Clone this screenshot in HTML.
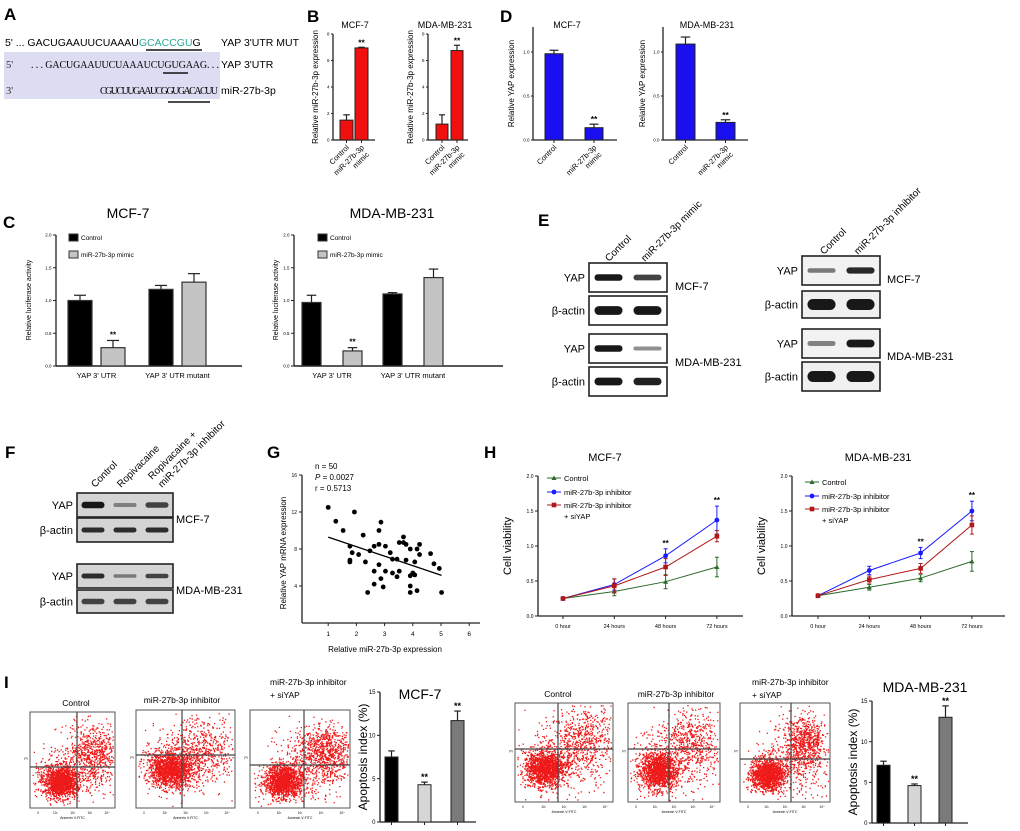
<!DOCTYPE html>
<html><head><meta charset="utf-8">
<style>
html,body{margin:0;padding:0;background:#fff;}
svg{display:block;font-family:"Liberation Sans",Arial,sans-serif;}
.ser{font-family:"Liberation Serif",serif;}
</style></head>
<body>
<svg id="fig" width="1020" height="831" viewBox="0 0 1020 831" xmlns="http://www.w3.org/2000/svg">
<g>
<text x="4" y="20" font-size="17" font-weight="bold">A</text>
<rect x="4" y="52" width="216" height="47" fill="#dcdcf2"/>
<text x="5" y="46" font-size="10.5">5' ... GACUGAAUUCUAAAU<tspan fill="#2aa89a">GCACCGU</tspan>G</text>
<line x1="146" y1="50" x2="202" y2="50" stroke="#111" stroke-width="1.5"/>
<text x="221" y="46" font-size="10.5">YAP 3'UTR MUT</text>
<text class="ser" x="6" y="68" font-size="10.5" fill="#333">5'</text>
<text class="ser" x="31" y="68" font-size="10" textLength="188">. . . GACUGAAUUCUAAAUCUGUGAAG. . .</text>
<line x1="163" y1="73" x2="188" y2="73" stroke="#111" stroke-width="1.5"/>
<text x="221" y="68" font-size="10.5">YAP 3'UTR</text>
<text class="ser" x="6" y="94" font-size="10.5" fill="#333">3'</text>
<text class="ser" x="100" y="94" font-size="10" textLength="118">CGUCUUGAAUCGGUGACACUU</text>
<line x1="168" y1="102" x2="210" y2="102" stroke="#111" stroke-width="1.5"/>
<text x="221" y="94" font-size="10.5">miR-27b-3p</text>
</g>
<text x="307" y="22" font-size="17" font-weight="bold">B</text>
<text x="500" y="22" font-size="17" font-weight="bold">D</text>
<text x="3" y="228" font-size="17" font-weight="bold">C</text>
<text x="538" y="226" font-size="17" font-weight="bold">E</text>
<text x="5" y="458" font-size="17" font-weight="bold">F</text>
<text x="267" y="458" font-size="17" font-weight="bold">G</text>
<text x="484" y="458" font-size="17" font-weight="bold">H</text>
<text x="4" y="688" font-size="17" font-weight="bold">I</text>
<g id="layer"></g>
</svg>
<script>
const bCats = ["Control", "miR-27b-3p mimic"];
const bMcfVals = [1.5, 6.95];
const bMcfErr = [0.4, 0.05];
const bMdaVals = [1.2, 6.75];
const bMdaErr = [0.7, 0.4];
const bTicks = [0, 2, 4, 6, 8];

const dMcfVals = [0.98, 0.14];
const dMcfErr = [0.04, 0.04];
const dMdaVals = [1.09, 0.2];
const dMdaErr = [0.08, 0.03];
const dTicks = ["0.0", "0.5", "1.0"];

const cGroups = ["YAP 3' UTR", "YAP 3' UTR mutant"];
const cSeries = ["Control", "miR-27b-3p mimic"];
const cMcfCtrl = [1.0, 1.17];
const cMcfCtrlErr = [0.08, 0.06];
const cMcfMimic = [0.28, 1.28];
const cMcfMimicErr = [0.11, 0.13];
const cMdaCtrl = [0.97, 1.1];
const cMdaCtrlErr = [0.11, 0.02];
const cMdaMimic = [0.23, 1.35];
const cMdaMimicErr = [0.05, 0.13];
const cTicks = ["0.0", "0.5", "1.0", "1.5", "2.0"];

const gX = [1.0,1.27,1.53,1.77,1.85,1.77,1.77,1.93,2.08,2.24,2.32,2.4,2.48,2.63,2.63,2.63,2.8,2.8,2.87,2.8,2.87,2.95,3.03,3.03,3.2,3.28,3.28,3.44,3.44,3.52,3.52,3.67,3.67,3.76,3.76,3.91,3.91,3.91,3.91,4.0,4.07,4.07,4.15,4.15,4.24,4.24,4.63,4.75,4.94,5.02];
const gY = [12.5,11.0,10.0,8.3,7.6,6.8,6.6,12.0,7.4,9.5,6.6,3.3,7.8,8.3,5.6,4.2,8.5,10.0,10.9,6.3,4.8,3.9,8.3,5.6,7.6,6.9,5.4,6.9,5.0,5.6,8.7,9.3,8.7,8.5,6.8,8.0,5.1,4.0,3.3,5.4,5.2,6.6,8.0,3.5,8.5,7.4,7.5,6.4,5.9,3.3];
const gXTicks = [1,2,3,4,5,6];
const gYTicks = [4,8,12,16];

const hTimes = ["0 hour", "24 hours", "48 hours", "72 hours"];
const hSeriesNames = ["Control", "miR-27b-3p inhibitor", "miR-27b-3p inhibitor + siYAP"];
const hMcfCtrl = [0.25, 0.35, 0.49, 0.70];
const hMcfCtrlErr = [0.02, 0.06, 0.10, 0.14];
const hMcfInh = [0.25, 0.45, 0.86, 1.37];
const hMcfInhErr = [0.01, 0.08, 0.10, 0.20];
const hMcfSi = [0.25, 0.43, 0.70, 1.14];
const hMcfSiErr = [0.01, 0.10, 0.12, 0.08];
const hMdaCtrl = [0.29, 0.41, 0.54, 0.78];
const hMdaCtrlErr = [0.02, 0.04, 0.05, 0.14];
const hMdaInh = [0.29, 0.65, 0.90, 1.50];
const hMdaInhErr = [0.01, 0.06, 0.08, 0.14];
const hMdaSi = [0.29, 0.52, 0.68, 1.30];
const hMdaSiErr = [0.01, 0.05, 0.07, 0.13];
const hTicks = ["0.0", "0.5", "1.0", "1.5", "2.0"];

const iCats = ["Control", "miR-27b-3p inhibitor", "inhibitor + siYAP"];
const iMcfVals = [7.5, 4.3, 11.7];
const iMcfErr = [0.7, 0.3, 1.1];
const iMdaVals = [7.1, 4.6, 13.0];
const iMdaErr = [0.5, 0.2, 1.4];
const iTicks = [0, 5, 10, 15];

const NS = "http://www.w3.org/2000/svg";
const layer = document.getElementById("layer");
function mk(tag, attrs, parent) {
  const el = document.createElementNS(NS, tag);
  for (const k in attrs) el.setAttribute(k, attrs[k]);
  (parent || layer).appendChild(el);
  return el;
}
function txt(x, y, s, size, extra) {
  const a = Object.assign({x: x, y: y, "font-size": size}, extra || {});
  const t = mk("text", a);
  t.textContent = s;
  return t;
}
function lin(x1, y1, x2, y2, w, c) {
  return mk("line", {x1: x1, y1: y1, x2: x2, y2: y2, stroke: c || "#222", "stroke-width": w || 1});
}
function yTitle(x, cy, s, size) {
  const t = txt(x, cy, s, size, {"text-anchor": "middle", transform: "rotate(-90 " + x + " " + cy + ")"});
  
  
  return t;
}
function rotLabel(x, y, s, size) {
  const t = txt(x, y, s, size, {"text-anchor": "end", transform: "rotate(-45 " + x + " " + y + ")"});
  
  
  return t;
}
function vAxis(ax, y0, y1, tickVals, scale, size, len) {
  const a = lin(ax, y0, ax, y1, 1.3);
  
  
  tickVals.forEach(v => {
    const y = scale(parseFloat(v));
    lin(ax - (len || 3), y, ax, y, 1);
    const t = txt(ax - (len || 3) - 1.5, y + size * 0.35, String(v), size, {"text-anchor": "end"});
    
    
  });
}
function bar(x, w, v, e, ys, fill, stroke, sw) {
  const yt = ys(v), yb = ys(0);
  const r = mk("rect", {x: x, y: yt, width: w, height: yb - yt, fill: fill, stroke: stroke, "stroke-width": sw || 1});
  
  
  const ye = ys(v + e);
  lin(x + w / 2, yt, x + w / 2, ye, 1.2);
  lin(x + w / 2 - w * 0.25, ye, x + w / 2 + w * 0.25, ye, 1.2);
  return r;
}
function stars(x, y, size) {
  const t = txt(x, y, "**", size || 9, {"text-anchor": "middle", "font-weight": "bold"});
  
  
}

function smallBar(o) {
  const ys = v => o.y0 - (v / o.max) * (o.y0 - o.yTop);
  const t = txt(o.titleX, 28, o.title, 9, {"text-anchor": "middle"});
  
  
  vAxis(o.ax, o.axTop, o.y0, o.ticks, ys, 4.5, 2);
  const xa = lin(o.ax, o.y0, o.xEnd, o.y0, 1.3);
  
  
  o.vals.forEach((v, i) => {
    const x = o.bx0 + i * o.step;
    bar(x, o.w, v, o.errs[i], ys, o.fill, "#222", 1);
    lin(x + o.w / 2, o.y0, x + o.w / 2, o.y0 + 3, 1);
    if (i === 1) stars(x + o.w / 2, ys(v + o.errs[i]) - 2, 8.5);
  });
  const cx0 = o.bx0 + o.w / 2, cx1 = o.bx0 + o.step + o.w / 2;
  rotLabel(cx0 + 3, o.y0 + 8, bCats[0], 7.5);
  rotLabel(cx1 + 3, o.y0 + 8, "miR-27b-3p", 7.5);
  rotLabel(cx1 + 8, o.y0 + 15, "mimic", 7.5);
  yTitle(o.ytX, (o.axTop + o.y0) / 2, o.ytitle, 8);
}
smallBar({title: "MCF-7", titleX: 355, ax: 333, axTop: 34, yTop: 34, y0: 140, max: 8, ticks: bTicks, xEnd: 375, bx0: 340, step: 15, w: 13, vals: bMcfVals, errs: bMcfErr, fill: "#f01010", ytX: 318, ytitle: "Relative miR-27b-3p  expression"});
smallBar({title: "MDA-MB-231", titleX: 445, ax: 428, axTop: 34, yTop: 34, y0: 140, max: 8, ticks: bTicks, xEnd: 468, bx0: 436, step: 15, w: 12, vals: bMdaVals, errs: bMdaErr, fill: "#f01010", ytX: 413, ytitle: "Relative miR-27b-3p  expression"});
smallBar({title: "MCF-7", titleX: 567, ax: 533, axTop: 27, yTop: 52, y0: 140, max: 1, ticks: dTicks, xEnd: 617, bx0: 545, step: 40, w: 18, vals: dMcfVals, errs: dMcfErr, fill: "#1a0ff0", ytX: 514, ytitle: "Relative YAP expression"});
smallBar({title: "MDA-MB-231", titleX: 707, ax: 663, axTop: 27, yTop: 52, y0: 140, max: 1, ticks: dTicks, xEnd: 748, bx0: 676, step: 40, w: 19, vals: dMdaVals, errs: dMdaErr, fill: "#1a0ff0", ytX: 645, ytitle: "Relative YAP expression"});

function groupBar(o) {
  const ys = v => o.y0 - (v / 2) * (o.y0 - o.yTop);
  const t = txt(o.titleX, 218, o.title, 14, {"text-anchor": "middle"});
  
  
  vAxis(o.ax, o.yTop, o.y0, cTicks, ys, 4.5, 3);
  const xa = lin(o.ax, o.y0, o.xEnd, o.y0, 1.5);
  
  
  const fills = ["#000", "#c4c4c4"];
  const series = [[o.ctrl, o.ctrlE], [o.mim, o.mimE]];
  cGroups.forEach((g, gi) => {
    series.forEach((s, si) => {
      const x = o.bx0 + gi * o.gstep + si * o.sstep;
      bar(x, o.w, s[0][gi], s[1][gi], ys, fills[si], "#333", 1.2);
      if (gi === 0 && si === 1) stars(x + o.w / 2, ys(s[0][gi] + s[1][gi]) - 3, 8);
    });
    const gl = txt(o.bx0 + gi * o.gstep + (o.sstep + o.w) / 2, o.y0 + 12, g, 7.5, {"text-anchor": "middle"});
    
    
  });
  cSeries.forEach((s, i) => {
    const r = mk("rect", {x: o.lx, y: 234 + i * 17, width: 9, height: 7, fill: fills[i], stroke: "#333", "stroke-width": 1});
    
    
    const l = txt(o.lx + 12, 240 + i * 17, s, 6.5);
    
    
  });
  yTitle(o.ytX, 300, "Relative luciferase  activity", 7);
}
groupBar({title: "MCF-7", titleX: 128, ax: 56, yTop: 235, y0: 366, xEnd: 242, bx0: 68, gstep: 81, sstep: 33, w: 24, ctrl: cMcfCtrl, ctrlE: cMcfCtrlErr, mim: cMcfMimic, mimE: cMcfMimicErr, lx: 69, ytX: 31});
groupBar({title: "MDA-MB-231", titleX: 392, ax: 294, yTop: 235, y0: 366, xEnd: 503, bx0: 302, gstep: 81, sstep: 41, w: 19, ctrl: cMdaCtrl, ctrlE: cMdaCtrlErr, mim: cMdaMimic, mimE: cMdaMimicErr, lx: 318, ytX: 278});

function blotBox(x, y, w, h, strengths, labelL, bg, thick) {
  const g = mk("g", {});
  
  
  mk("rect", {x: x, y: y, width: w, height: h, fill: bg, stroke: "#222", "stroke-width": 1.6}, g);
  const n = strengths.length, lw = w / n;
  strengths.forEach((s, i) => {
    const bw = lw * 0.72, bh = (thick || 6) * (0.5 + s * 0.6);
    const e = mk("rect", {x: x + i * lw + (lw - bw) / 2, y: y + h / 2 - bh / 2, width: bw, height: bh, rx: bh / 2, fill: "#111", opacity: 0.25 + s * 0.72}, g);
    
    
  });
  const l = txt(x - 4, y + h / 2 + 4, labelL, 11, {"text-anchor": "end"});
  
  
}
blotBox(589, 263, 78, 29, [1, 0.75], "YAP", "#fff", 6);
blotBox(589, 296, 78, 29, [1, 1], "β-actin", "#fff", 8);
blotBox(589, 334, 78, 29, [1, 0.3], "YAP", "#fff", 6);
blotBox(589, 367, 78, 29, [1, 0.95], "β-actin", "#fff", 7);
txt(675, 290, "MCF-7", 11);
txt(675, 366, "MDA-MB-231", 11);
txt(609, 262, "Control", 10, {transform: "rotate(-45 609 262)"});
txt(645, 262, "miR-27b-3p  mimic", 10, {transform: "rotate(-45 645 262)"});
blotBox(802, 256, 78, 29, [0.4, 0.9], "YAP", "#f2f2f2", 6);
blotBox(802, 291, 78, 27, [1, 1], "β-actin", "#f0f0f0", 10);
blotBox(802, 329, 78, 29, [0.35, 1], "YAP", "#f2f2f2", 7);
blotBox(802, 362, 78, 29, [1, 1], "β-actin", "#f0f0f0", 10);
txt(887, 283, "MCF-7", 11);
txt(887, 360, "MDA-MB-231", 11);
txt(824, 255, "Control", 10, {transform: "rotate(-45 824 255)"});
txt(858, 255, "miR-27b-3p  inhibitor", 10, {transform: "rotate(-45 858 255)"});
blotBox(77, 493, 96, 24, [1, 0.25, 0.7], "YAP", "#d4d4d4", 6);
blotBox(77, 518, 96, 24, [0.85, 0.85, 0.85], "β-actin", "#d4d4d4", 5);
blotBox(77, 564, 96, 24, [0.85, 0.3, 0.7], "YAP", "#d4d4d4", 5);
blotBox(77, 590, 96, 23, [0.7, 0.7, 0.7], "β-actin", "#d4d4d4", 6);
txt(176, 523, "MCF-7", 11);
txt(176, 594, "MDA-MB-231", 11);
txt(95, 488, "Control", 10, {transform: "rotate(-45 95 488)"});
txt(121, 488, "Ropivacaine", 10, {transform: "rotate(-45 121 488)"});
txt(152, 480, "Ropivacaine +", 10, {transform: "rotate(-45 152 480)"});
txt(162, 488, "miR-27b-3p inhibitor", 10, {transform: "rotate(-45 162 488)"});

(function () {
  const ax = 302, y0 = 623;
  const xs = v => 300 + v * 28.2;
  const ys = v => y0 - v * 9.25;
  const ya = lin(ax, 475, ax, 623, 1.3);
  
  
  gYTicks.forEach(v => { lin(ax - 3, ys(v), ax, ys(v)); txt(ax - 5, ys(v) + 2, String(v), 5, {"text-anchor": "end"}); });
  const xa = lin(ax, 623, 480, 623, 1.3);
  
  
  gXTicks.forEach(v => { lin(xs(v), 623, xs(v), 626); txt(xs(v), 636, String(v), 6.5, {"text-anchor": "middle"}); });
  gX.forEach((x, i) => {
    const c = mk("circle", {cx: xs(x), cy: ys(gY[i]), r: 2.4, fill: "#000"});
    
    
  });
  const n = gX.length;
  const mx = gX.reduce((a, b) => a + b, 0) / n, my = gY.reduce((a, b) => a + b, 0) / n;
  let sxy = 0, sxx = 0;
  gX.forEach((x, i) => { sxy += (x - mx) * (gY[i] - my); sxx += (x - mx) * (x - mx); });
  const b = sxy / sxx, a = my - b * mx;
  const minX = Math.min(...gX), maxX = Math.max(...gX);
  const rl = lin(xs(minX), ys(a + b * minX), xs(maxX), ys(a + b * maxX), 1.3, "#000");
  
  
  txt(315, 469, "n = 50", 8);
  mk("text", {x: 315, y: 480, "font-size": 8}).innerHTML = '<tspan font-style="italic">P</tspan> = 0.0027';
  txt(315, 491, "r = 0.5713", 8);
  yTitle(286, 553, "Relative YAP mRNA expression", 8);
  const xt = txt(385, 652, "Relative miR-27b-3p expression", 8, {"text-anchor": "middle"});
  
  
})();

const hColors = ["#2a6a2a", "#1a1aff", "#b01818"];
function lineChart(o) {
  const ys = v => o.y0 - v * 70;
  const xs = i => o.x0 + i * o.step;
  const t = txt(o.titleX, 461, o.title, 11, {"text-anchor": "middle"});
  
  
  vAxis(o.ax, ys(2), o.y0, hTicks, ys, 5, 3);
  const xa = lin(o.ax, o.y0, o.xEnd, o.y0, 1.2);
  
  
  hTimes.forEach((s, i) => {
    lin(xs(i), o.y0, xs(i), o.y0 + 3);
    const l = txt(xs(i), o.y0 + 12, s, 5.5, {"text-anchor": "middle"});
    
    
  });
  o.series.forEach((s, si) => {
    const col = hColors[si];
    const pts = s[0].map((v, i) => xs(i) + "," + ys(v)).join(" ");
    const pl = mk("polyline", {points: pts, fill: "none", stroke: col, "stroke-width": 1});
    
    
    s[0].forEach((v, i) => {
      const x = xs(i), y = ys(v), e = s[1][i];
      lin(x, ys(v - e), x, ys(v + e), 1, col);
      lin(x - 2, ys(v + e), x + 2, ys(v + e), 1, col);
      lin(x - 2, ys(v - e), x + 2, ys(v - e), 1, col);
      let m;
      if (si === 0) m = mk("polygon", {points: (x - 2.5) + "," + (y + 2) + " " + (x + 2.5) + "," + (y + 2) + " " + x + "," + (y - 2.5), fill: col});
      else if (si === 1) m = mk("circle", {cx: x, cy: y, r: 2.4, fill: col});
      else m = mk("rect", {x: x - 2.3, y: y - 2.3, width: 4.6, height: 4.6, fill: col});
      
      
    });
  });
  [2, 3].forEach(i => {
    const top = Math.max(...o.series.map(s => s[0][i] + s[1][i]));
    stars(xs(i), ys(top) - 3, 8);
  });
  const ly = [o.ly, o.ly + 14, o.ly + 27];
  hSeriesNames.forEach((n, si) => {
    const y = ly[si];
    lin(o.lx, y, o.lx + 14, y, 1, hColors[si]);
    if (si === 0) mk("polygon", {points: (o.lx + 4.5) + "," + (y + 2) + " " + (o.lx + 9.5) + "," + (y + 2) + " " + (o.lx + 7) + "," + (y - 2.5), fill: hColors[0]});
    else if (si === 1) mk("circle", {cx: o.lx + 7, cy: y, r: 2.4, fill: hColors[1]});
    else mk("rect", {x: o.lx + 4.7, y: y - 2.3, width: 4.6, height: 4.6, fill: hColors[2]});
    const label = si === 2 ? "miR-27b-3p inhibitor" : n;
    const l = txt(o.lx + 17, y + 3, label, 7.5);
    
    
    if (si === 2) txt(o.lx + 17, y + 14, "+ siYAP", 7.5);
  });
  yTitle(o.ytX, 546, "Cell viability", 11);
}
lineChart({title: "MCF-7", titleX: 605, ax: 538, y0: 616, x0: 563, step: 51.3, xEnd: 743, lx: 547, ly: 478, ytX: 511,
  series: [[hMcfCtrl, hMcfCtrlErr], [hMcfInh, hMcfInhErr], [hMcfSi, hMcfSiErr]]});
lineChart({title: "MDA-MB-231", titleX: 878, ax: 792, y0: 616, x0: 818, step: 51.3, xEnd: 1005, lx: 805, ly: 482, ytX: 765,
  series: [[hMdaCtrl, hMdaCtrlErr], [hMdaInh, hMdaInhErr], [hMdaSi, hMdaSiErr]]});

const flowClusters = [
  [[0.35, 0.72, 0.1, 0.08, 1500], [0.75, 0.42, 0.14, 0.16, 550], [0.5, 0.6, 0.25, 0.2, 350]],
  [[0.35, 0.6, 0.11, 0.09, 1500], [0.68, 0.38, 0.16, 0.16, 400], [0.5, 0.5, 0.25, 0.2, 350]],
  [[0.32, 0.72, 0.09, 0.08, 1500], [0.75, 0.4, 0.13, 0.13, 650], [0.62, 0.6, 0.22, 0.18, 450]],
  [[0.3, 0.65, 0.1, 0.09, 1500], [0.72, 0.35, 0.16, 0.15, 500], [0.5, 0.55, 0.25, 0.2, 350]],
  [[0.33, 0.68, 0.1, 0.09, 1400], [0.68, 0.38, 0.16, 0.16, 450], [0.5, 0.55, 0.25, 0.2, 350]],
  [[0.3, 0.72, 0.09, 0.08, 1400], [0.72, 0.38, 0.12, 0.13, 650], [0.6, 0.6, 0.2, 0.18, 400]]
];
const flowTitles = ["Control", "miR-27b-3p inhibitor", "miR-27b-3p inhibitor|+ siYAP", "Control", "miR-27b-3p inhibitor", "miR-27b-3p inhibitor|+ siYAP"];
let seed = 12345;
function rnd() { seed = (seed * 1103515245 + 12345) % 2147483648; return seed / 2147483648; }
function gauss() { let u = rnd() || 1e-6, v = rnd(); return Math.sqrt(-2 * Math.log(u)) * Math.cos(2 * Math.PI * v); }
function flowPlot(idx, x, y, w, h, vx, hy, tx, ty) {
  const g = mk("g", {});
  
  
  mk("rect", {x: x, y: y, width: w, height: h, fill: "#fff", stroke: "#555", "stroke-width": 1}, g);
  let path = "";
  flowClusters[idx].forEach(c => {
    for (let k = 0; k < c[4]; k++) {
      const px = x + w * (c[0] + c[2] * gauss()), py = y + h * (c[1] + c[3] * gauss());
      if (px > x + 2 && px < x + w - 2 && py > y + 2 && py < y + h - 2) path += "M" + px.toFixed(1) + " " + py.toFixed(1) + "h1.3v1.3h-1.3z";
    }
  });
  const p = mk("path", {d: path, fill: "#ee1a1a"}, g);
  
  
  lin(vx, y, vx, y + h, 1.2, "#444");
  lin(x, hy, x + w, hy, 1.2, "#444");
  const parts = flowTitles[idx].split("|");
  if (parts.length === 1) {
    const t = txt(tx, ty, parts[0], 8.5, {"text-anchor": "middle"});
    
    
  } else {
    const t = txt(tx, ty - 13, parts[0], 8.5);
    
    
    txt(tx, ty, parts[1], 8.5);
  }
  txt(x + w / 2, y + h + 11, "Annexin V-FITC", 3.5, {"text-anchor": "middle"});
  ["0", "10¹", "10²", "10³", "10⁴"].forEach((s, i) => txt(x + 8 + i * (w - 16) / 4, y + h + 6, s, 3.2, {"text-anchor": "middle"}));
  txt(x - 4, y + h / 2, "PI", 3.5, {"text-anchor": "middle"});
}
flowPlot(0, 30, 712, 85, 96, 77, 767, 76, 706);
flowPlot(1, 136, 710, 99, 98, 182, 755, 182, 703);
flowPlot(2, 250, 710, 100, 98, 304, 765, 270, 698);
flowPlot(3, 515, 703, 98, 99, 558, 749, 558, 697);
flowPlot(4, 628, 703, 92, 99, 669, 749, 676, 697);
flowPlot(5, 740, 703, 90, 99, 791, 759, 752, 698);

function apopBar(o) {
  const ys = v => o.y0 - (v / 15) * (o.y0 - o.yTop);
  const t = txt(o.titleX, o.titleY, o.title, 14, {"text-anchor": "middle"});
  
  
  vAxis(o.ax, o.yTop, o.y0, iTicks, ys, 6, 3);
  const xa = lin(o.ax, o.y0, o.ax + 96, o.y0, 1.2);
  
  
  const fills = ["#000", "#d6d6d6", "#7a7a7a"];
  o.vals.forEach((v, i) => {
    const x = o.bx0 + i * o.step;
    bar(x, 13, v, o.errs[i], ys, fills[i], "#222", 1);
    lin(x + 6.5, o.y0, x + 6.5, o.y0 + 3);
    if (i > 0) stars(x + 6.5, ys(v + o.errs[i]) - 2, 9);
  });
  yTitle(o.ytX, (o.yTop + o.y0) / 2, "Apoptosis index (%)", 12);
}
apopBar({title: "MCF-7", titleX: 420, titleY: 699, ax: 380, yTop: 692, y0: 822, bx0: 385, step: 33, vals: iMcfVals, errs: iMcfErr, ytX: 367});
apopBar({title: "MDA-MB-231", titleX: 925, titleY: 692, ax: 872, yTop: 701, y0: 823, bx0: 877, step: 31, vals: iMdaVals, errs: iMdaErr, ytX: 857});
</script>
</body></html>
